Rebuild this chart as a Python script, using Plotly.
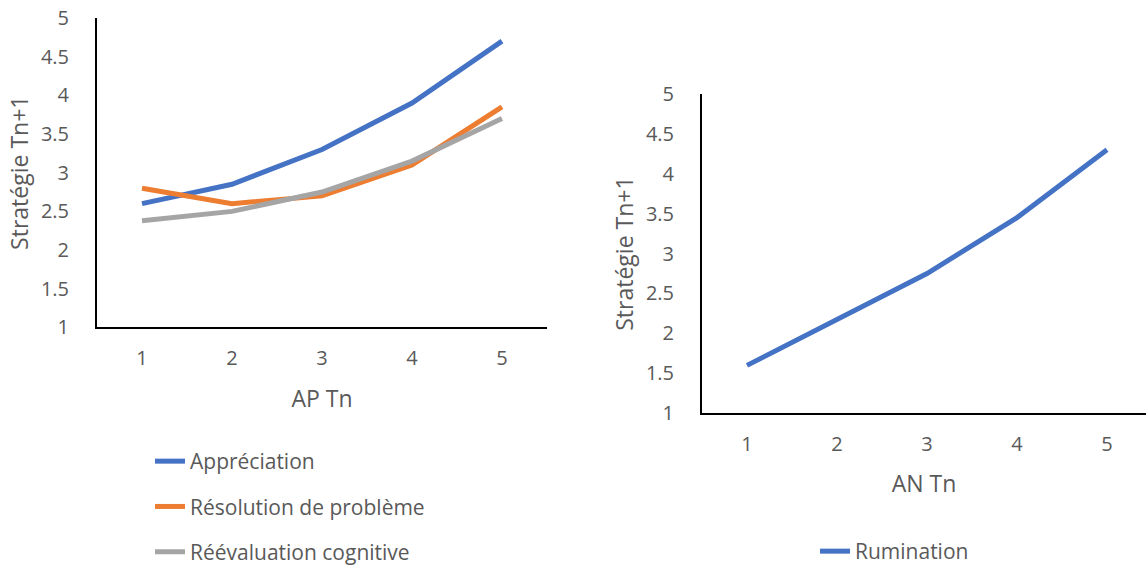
import plotly.graph_objects as go

# ---- data ----
x_levels = [1, 2, 3, 4, 5]
appreciation = [2.6, 2.85, 3.3, 3.9, 4.7]
resolution_probleme = [2.8, 2.6, 2.7, 3.1, 3.85]
reevaluation_cognitive = [2.38, 2.5, 2.75, 3.15, 3.7]
rumination = [1.6, 2.17, 2.75, 3.45, 4.3]

y_ticks = [1, 1.5, 2, 2.5, 3, 3.5, 4, 4.5, 5]
y_ticktext = ["1", "1.5", "2", "2.5", "3", "3.5", "4", "4.5", "5"]

left_series = [
    ("Appréciation", appreciation, "#4472C4"),
    ("Résolution de problème", resolution_probleme, "#ED7D31"),
    ("Réévaluation cognitive", reevaluation_cognitive, "#A5A5A5"),
]

FONT = "Open Sans, Noto Sans, sans-serif"
GREY = "#595959"
W, H = 1146, 572
TICK_SIZE = 20
TITLE_SIZE = 23
LEG_SIZE = 21

fig = go.Figure()
for i, (name, vals, col) in enumerate(left_series):
    fig.add_trace(go.Scatter(
        x=x_levels, y=vals, mode="lines", name=name,
        line=dict(color=col, width=5), xaxis="x", yaxis="y",
        legend="legend", legendgroup=f"g{i}"))

fig.add_trace(go.Scatter(
    x=x_levels, y=rumination, mode="lines", name="Rumination",
    line=dict(color="#4472C4", width=5), xaxis="x2", yaxis="y2",
    legend="legend2"))

axis_common = dict(
    showgrid=False, zeroline=False, showline=True, linecolor="black",
    linewidth=2, ticks="", tickfont=dict(family=FONT, size=TICK_SIZE, color=GREY),
    automargin=False,
)
title_font = dict(family=FONT, size=TITLE_SIZE, color=GREY)

fig.update_layout(
    width=W, height=H,
    margin=dict(l=0, r=0, t=0, b=0),
    paper_bgcolor="white", plot_bgcolor="white",
    font=dict(family=FONT, color=GREY),
    xaxis=dict(domain=[97 / W, 547 / W], range=[0.5, 5.5],
               tickvals=x_levels, ticklabelstandoff=12,
               title=dict(text="AP Tn", font=title_font, standoff=20),
               anchor="y", **axis_common),
    yaxis=dict(domain=[(H - 328) / H, (H - 18) / H], range=[1, 5],
               tickvals=y_ticks, ticktext=y_ticktext, ticklabelstandoff=22,
               title=dict(text="Stratégie Tn+1", font=title_font, standoff=6),
               anchor="x", **axis_common),
    xaxis2=dict(domain=[702 / W, 1.0], range=[0.5, 0.5 + 444 / 90],
                tickvals=x_levels, ticklabelstandoff=12,
                title=dict(text="AN Tn", font=title_font, standoff=20),
                anchor="y2", **axis_common),
    yaxis2=dict(domain=[(H - 414) / H, (H - 94) / H], range=[1, 5],
                tickvals=y_ticks, ticktext=y_ticktext, ticklabelstandoff=22,
                title=dict(text="Stratégie Tn+1", font=title_font, standoff=6),
                anchor="x2", **axis_common),
    legend=dict(x=150 / W, y=(H - 441) / H, xanchor="left", yanchor="top",
                orientation="v", tracegroupgap=15, itemwidth=30,
                bgcolor="rgba(0,0,0,0)",
                font=dict(family=FONT, size=LEG_SIZE, color=GREY)),
    legend2=dict(x=815 / W, y=(H - 532) / H, xanchor="left", yanchor="top",
                 orientation="v", bgcolor="rgba(0,0,0,0)",
                 font=dict(family=FONT, size=LEG_SIZE, color=GREY)),
)

post = (
    "var de=document.documentElement, b=document.body;"
    "[de, b].forEach(function(e){e.style.margin='0'; e.style.padding='0';"
    "e.style.overflow='hidden';});"
)
fig.write_html("out.html", post_script=post, config={"displayModeBar": False})
